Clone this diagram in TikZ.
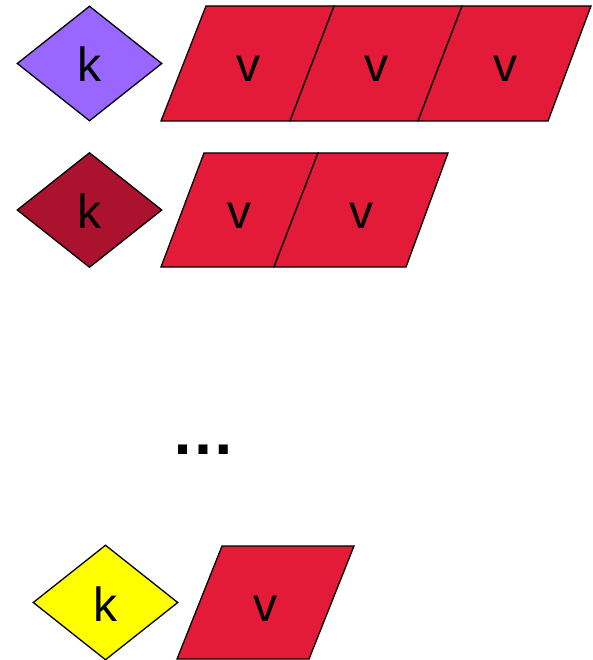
\documentclass[tikz,border=0pt]{standalone}
\usepackage{fontspec}
\newfontfamily\labelfont{Liberation Sans}
\usepackage{xcolor}
\definecolor{keypurple}{RGB}{153,102,255}
\definecolor{keydarkred}{RGB}{170,18,45}
\definecolor{keyyellow}{RGB}{255,255,0}
\definecolor{valred}{RGB}{227,26,56}
\usepackage{tikz}
\usetikzlibrary{shapes.geometric}

\begin{document}
\begin{tikzpicture}[x=1pt, y=-1pt,
  keybox/.style={diamond, draw=black, line width=1.3pt, minimum width=145pt, minimum height=115pt, inner sep=0pt, font=\labelfont\fontsize{48}{48}\selectfont, text height=40pt, text depth=3pt},
  valbox/.style={fill=valred, draw=black, line width=1.3pt, line join=miter},
  vallabel/.style={inner sep=0pt, font=\labelfont\fontsize{48}{48}\selectfont, text height=40pt, text depth=3pt}
]
  \useasboundingbox (0,0) rectangle (592,660);

  % first key with three values
  \node[keybox, fill=keypurple] (k1) at (89.5,63.5) {k};
  \draw[valbox] (161,121) -- (206,6) -- (334,6) -- (290,121) -- cycle;
  \draw[valbox] (290,121) -- (334,6) -- (462,6) -- (418,121) -- cycle;
  \draw[valbox] (418,121) -- (462,6) -- (591,6) -- (548,121) -- cycle;
  \node[vallabel] (v11) at (248,63.5) {v};
  \node[vallabel] (v12) at (376,63.5) {v};
  \node[vallabel] (v13) at (505,63.5) {v};

  % second key with two values
  \node[keybox, fill=keydarkred] (k2) at (89.5,210) {k};
  \draw[valbox] (161,267) -- (204,153) -- (318,153) -- (274,267) -- cycle;
  \draw[valbox] (274,267) -- (318,153) -- (448,153) -- (406,267) -- cycle;
  \node[vallabel] (v21) at (239,210) {v};
  \node[vallabel] (v22) at (361.5,210) {v};

  \node[font=\labelfont\bfseries\fontsize{64}{64}\selectfont, inner sep=0pt, anchor=base] (dots) at (203,454) {…};

  % last key with one value
  \node[keybox, fill=keyyellow] (kn) at (105.5,602.5) {k};
  \draw[valbox] (177,659) -- (222,546) -- (354,546) -- (309,659) -- cycle;
  \node[vallabel] (vn1) at (265.5,602.5) {v};
\end{tikzpicture}
\end{document}
